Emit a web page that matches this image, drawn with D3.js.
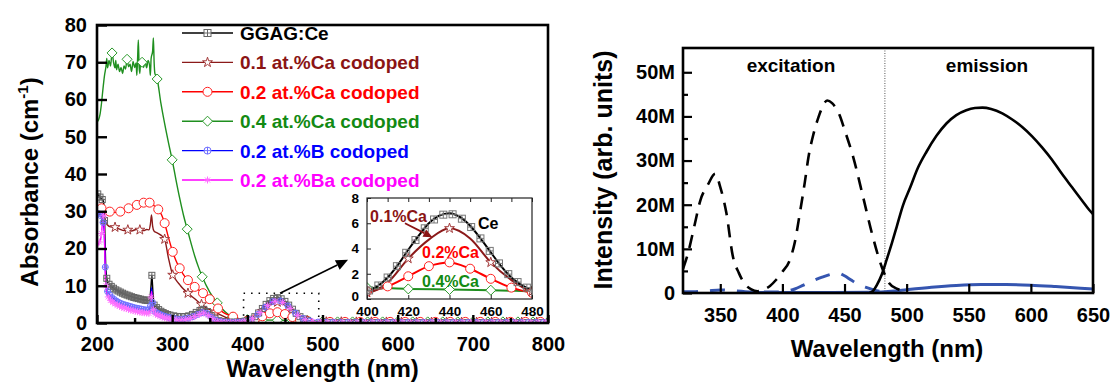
<!DOCTYPE html>
<html>
<head>
<meta charset="utf-8">
<script src="https://cdn.jsdelivr.net/npm/d3@7"></script>
<style>
  body { margin: 0; background: #fff; }
  svg { display: block; font-family: "Liberation Sans", Arial, sans-serif; }
</style>
</head>
<body>
<svg id="chart" width="1112" height="383"></svg>
<script>
// ================= Absorption spectra (left panel) =================
const ggagWl  = [200,202,204,206,208,209.5,210.5,211.5,213,215,218,221,224,228,232,236,240,244,248,252,256,260,264,268,270,271.5,273,274.5,276,278,282,286,290,295,300,305,310,315,320,325,330,335,340,343,346,350,355,360,370,380,390,400,405,410,415,420,425,430,435,440,445,450,455,460,465,470,475,480,490,500,520,540,560,580,600,620,640,660,680,700,720,740,760,780,800];
const ggagAbs = [35,34.3,33.8,33.3,33,31,24,16,12,10.6,10,9.5,9,8.6,8.2,7.8,7.5,7.2,6.9,6.7,6.5,6.3,6.1,6.0,6.2,9,12.8,8,4.8,4.3,3.6,3.0,2.6,2.2,2.0,1.8,1.7,1.7,1.8,2.1,2.6,3.2,3.6,3.7,3.3,2.4,1.4,0.7,0.3,0.2,0.3,0.6,1.0,1.7,2.7,3.9,5.0,6.0,6.6,6.8,6.5,5.8,4.8,3.7,2.6,1.7,1.1,0.7,0.35,0.2,0.15,0.15,0.12,0.12,0.1,0.1,0.1,0.1,0.1,0.1,0.1,0.1,0.1,0.1,0.1];

const ca01Wl  = [200,203,206,209,211,214,218,224,230,236,241,246,252,257,262,266,269,271,272.5,274,276,280,285,290,295,300.7,305,310,315,321,330,339,348,357,365,375,385,400,410,420,430,440,450,460,470,480,490,500,520,540,560,580,600,620,640,660,680,700,720,740,760,780,800];
const ca01Abs = [30,29.5,28.5,29.8,27.5,26.3,25.8,25.7,25.2,24.8,25,24.7,25.1,25,24.8,25.1,25,26.5,29,26,24.6,24.2,23.6,22.5,17.5,12.9,11.6,10.3,9.1,8,6.5,5,3.8,3,2.1,1.2,0.7,0.5,1.3,3.2,4.7,5.6,4.8,2.9,1.5,0.6,0.4,0.3,0.3,0.25,0.25,0.25,0.2,0.2,0.2,0.2,0.2,0.2,0.2,0.2,0.2,0.2,0.2];

const ca02Wl  = [200,203,206,210,217,224,231,236,242,248,253,258,262,266,270,273,276,281.5,286,290,295,300.7,305,310,315,321,330,341,350,355,361,370,381,390,400,410,420,430,440,450,460,470,480,490,500,520,540,560,580,600,620,640,660,680,700,720,740,760,780,800];
const ca02Abs = [28,30.5,30.8,30.2,29.9,29.7,29.9,30.3,30.8,31.3,31.7,32.1,32.3,32.4,32.3,32,31.5,30.5,29,26.8,23,19.1,16.8,14.7,13,11.5,9.7,8,6.4,5.2,3.9,2.6,1.7,1.1,0.6,1.0,1.8,2.6,2.9,2.4,1.6,0.9,0.5,0.35,0.3,0.3,0.3,0.3,0.3,0.3,0.3,0.3,0.3,0.3,0.3,0.3,0.3,0.3,0.3,0.3];

const ca04Wl  = [200,202,204,206,208,210,212,213,214,216,218,220,222,224,225,226,228,230,232,234,236,238,240,242,244,246,248,250,252,253,254,255,256,257,258,260,262,264,266,268,270,271,272,274,275,276,277,278,280,285,290,295,300,305,310,315,320,325,330,335,340,350,360,370,380,390,400,420,440,460,480,500,520,540,560,580,600,620,640,660,680,700,720,740,760,780,800];
const ca04Abs = [54,54.5,56,59,63,66.5,69,71,68.5,70.5,69,72.5,70,68.5,70.5,68,69.5,67.5,68.6,67,69,68.2,70.8,68.8,69.5,67.5,70.2,68.6,69.8,66.5,71,76,69,67,70.5,70,68.6,70.2,68.5,70.5,69,66.5,71,73,76.5,70,67,66.5,65.5,59,53.5,48.5,43.8,38.5,33.5,29,25.2,21.5,18,15,12.4,8.3,5.4,3.1,1.6,0.7,0.9,0.8,0.75,0.7,0.6,0.4,0.3,0.3,0.3,0.3,0.3,0.3,0.3,0.3,0.3,0.3,0.3,0.3,0.3,0.3,0.3];

const bWl  = [200,203,206,208,209.5,211,212.5,214,217,220,225,230,235,240,245,250,255,260,265,269,271,272.5,274,276,280,285,290,295,300,305,310,315,320,325,330,335,340,343,346,350,355,360,370,380,390,400,410,420,430,440,450,460,470,480,490,500,520,540,560,580,600,620,640,660,680,700,720,740,760,780,800];
const bAbs = [29,29.5,28.5,27,25,15,10,8.5,7.5,6.8,6,5.4,5,4.7,4.4,4.1,3.9,3.7,3.5,3.4,4.5,9.5,5.5,3.2,2.7,2.2,1.8,1.5,1.3,1.1,1.0,1.1,1.2,1.5,1.9,2.4,2.8,2.9,2.6,1.9,1.1,0.5,0.2,0.1,0.2,0.5,1.5,3.5,5.4,6.3,5.4,3.4,1.6,0.7,0.3,0.2,0.15,0.15,0.15,0.15,0.15,0.15,0.15,0.15,0.15,0.15,0.15,0.15,0.15,0.15,0.15];

const baWl  = [200,202,204,206,207.5,208.5,209.5,210.5,211.5,213,216,220,225,230,235,240,245,250,255,260,265,269,271,272.5,274,276,280,285,290,295,300,305,310,315,320,325,330,335,340,343,346,350,355,360,370,380,390,400,410,420,430,440,450,460,470,480,490,500,520,540,560,580,600,620,640,660,680,700,720,740,760,780,800];
const baAbs = [20,21.5,22,24,28,30.5,27,18,11,8,6.5,5.7,5,4.5,4.1,3.8,3.5,3.2,3.0,2.8,2.7,2.6,3.8,8.5,4.5,2.6,2.2,1.8,1.4,1.2,1.0,0.9,0.8,0.9,1.0,1.3,1.7,2.2,2.6,2.7,2.4,1.7,1.0,0.4,0.15,0.1,0.2,0.5,1.4,3.4,5.2,6.1,5.3,3.3,1.5,0.6,0.3,0.2,0.15,0.15,0.15,0.15,0.15,0.15,0.15,0.15,0.15,0.15,0.15,0.15,0.15,0.15,0.15];

const absSeriesNames = ["GGAG:Ce","0.1 at.%Ca codoped","0.2 at.%Ca codoped","0.4 at.%Ca codoped","0.2 at.%B codoped","0.2 at.%Ba codoped"];
const absXTicks = [200,300,400,500,600,700,800];
const absYTicks = [0,10,20,30,40,50,60,70,80];
const insetXTicks = [400,420,440,460,480];
const insetYTicks = [0,2,4,6,8];
const insetLabels = ["0.1%Ca","Ce","0.2%Ca","0.4%Ca"];

// ================= PL spectra (right panel) =================
const exWl  = [320,324,329,334,340,346,350,355,360,365,370,375,380,385,390,395,400,406,410,414,418,421,425,429,432,436,440,446,450,457,465,472,480,486,492,496,500];
const exInt = [5.5,9,15,21,24.5,27,24,18,8.5,4.5,2,0.8,0.4,0.8,1.6,3,4.8,7.5,11.5,18,25,30.8,36,39.8,42,43.6,43,40.3,37,30.8,21.7,13.6,5.9,2.2,1.0,0.6,0.4];
const emWl  = [470,473,476,480,484,488,492,497,503,509,516,524,532,540,548,555,561,568,577,585,593,601,609,617,625,633,641,647,650];
const emInt = [0,0.5,1.8,4.2,7.6,11.2,15,19.8,24,28.3,32,35.6,38.4,40.3,41.4,41.9,42,41.7,40.7,39.3,37.6,35.5,33,30.2,27,24,21,18.8,17.9];
const exBWl  = [320,330,340,350,360,370,380,390,400,410,417,425,432,440,445,450,455,460,468,475,480,490];
const exBInt = [0.3,0.3,0.5,0.7,0.5,0.3,0.2,0.2,0.3,0.9,1.8,2.8,3.6,4.3,4.5,3.9,3.0,2.1,1.2,0.6,0.3,0.1];
const emBWl  = [368,400,440,470,480,490,500,520,540,560,580,600,620,640,650];
const emBInt = [0.1,0.1,0.1,0.15,0.25,0.45,0.75,1.3,1.7,1.9,1.9,1.75,1.45,1.1,0.9];
const plXTicks = [350,400,450,500,550,600,650];
const plYTicks = [0,10,20,30,40,50];
const plRegionNames = ["excitation","emission"];

// ---------------------------------------------------------------
const svg = d3.select("#chart");

function valueAt(wl, vals, x) {
  const i = d3.bisectLeft(wl, x);
  if (i <= 0) return vals[0];
  if (i >= wl.length) return vals[vals.length - 1];
  const t = (x - wl[i - 1]) / (wl[i] - wl[i - 1]);
  return vals[i - 1] + t * (vals[i] - vals[i - 1]);
}

function drawMarker(g, type, x, y, color, r, fill) {
  const s = g.append("g").attr("transform", `translate(${x},${y})`)
    .attr("stroke", color).attr("stroke-width", 1).attr("fill", fill || "none");
  if (type === "sqplus") {
    s.append("rect").attr("x", -r).attr("y", -r).attr("width", 2 * r).attr("height", 2 * r);
    s.append("path").attr("d", `M${-r},0H${r}M0,${-r}V${r}`);
  } else if (type === "star") {
    s.append("path").attr("d", d3.symbol(d3.symbolStar, r * r * 1.5)());
  } else if (type === "circle") {
    s.append("circle").attr("r", r);
  } else if (type === "diamond") {
    s.append("path").attr("d", `M0,${-r}L${r},0L0,${r}L${-r},0Z`);
  } else if (type === "circplus") {
    s.append("circle").attr("r", r);
    s.append("path").attr("d", `M${-r},0H${r}M0,${-r}V${r}`);
  } else if (type === "asterisk") {
    const d = r * 0.72;
    s.append("path").attr("d", `M${-r},0H${r}M0,${-r}V${r}M${-d},${-d}L${d},${d}M${-d},${d}L${d},${-d}`);
  }
}

// ---------------- left panel ----------------
const L = { x0: 97, x1: 548, y0: 25, y1: 323 };
const xL = d3.scaleLinear().domain([200, 800]).range([L.x0, L.x1]);
const yL = d3.scaleLinear().domain([0, 80]).range([L.y1, L.y0]);

const absSeries = [
  { name: absSeriesNames[0], wl: ggagWl, v: ggagAbs, color: "#000000", text: "#000000", mark: "sqplus", mc: "#666666", mr: 3, mfill: "none",
    marks: d3.range(201, 300, 3).concat(d3.range(302, 400, 5), d3.range(400, 481, 5), d3.range(500, 801, 10)) },
  { name: absSeriesNames[1], wl: ca01Wl, v: ca01Abs, color: "#8b1a1a", text: "#8b1414", mark: "star", mc: "#a33a3a", mr: 4.5, mfill: "#fff",
    marks: [224, 241, 257, 290, 300.7, 321, 339, 357, 380, 400, 420, 440, 460, 480, 505, 525, 545, 565, 585, 605, 625, 645, 665, 685, 705, 725, 745, 765, 785] },
  { name: absSeriesNames[2], wl: ca02Wl, v: ca02Abs, color: "#ff0000", text: "#ff0000", mark: "circle", mc: "#ff2020", mr: 4.5, mfill: "#fff",
    marks: [206, 217, 231, 242, 253, 262, 270, 281.5, 290, 300.7, 310, 321, 330, 341, 350, 361, 381, 400, 410, 420, 430, 440, 450, 460, 470, 480, 510, 530, 550, 570, 590, 610, 630, 650, 670, 690, 710, 730, 750, 770, 790] },
  { name: absSeriesNames[3], wl: ca04Wl, v: ca04Abs, color: "#1f8f1f", text: "#138a13", mark: "diamond", mc: "#2a9a2a", mr: 5, mfill: "#fff",
    marks: d3.range(220, 801, 20) },
  { name: absSeriesNames[4], wl: bWl, v: bAbs, color: "#0000ff", text: "#0000ff", mark: "circplus", mc: "#7070ff", mr: 3, mfill: "none",
    marks: d3.range(202, 300, 3).concat(d3.range(304, 400, 6), d3.range(404, 801, 10)) },
  { name: absSeriesNames[5], wl: baWl, v: baAbs, color: "#ff00ff", text: "#ff00ff", mark: "asterisk", mc: "#ff70ff", mr: 3.5, mfill: "none",
    marks: d3.range(203, 300, 3).concat(d3.range(306, 400, 6), d3.range(407, 801, 10)) }
];

svg.append("defs").append("clipPath").attr("id", "clipL")
  .append("rect").attr("x", L.x0).attr("y", L.y0).attr("width", L.x1 - L.x0).attr("height", L.y1 - L.y0);

const plotL = svg.append("g").attr("clip-path", "url(#clipL)");
const lineL = (s) => d3.line().x((d, i) => xL(s.wl[i])).y((d) => yL(d)).curve(d3.curveMonotoneX)(s.v);

// draw order: green, dark red, red, black, blue, magenta
const drawOrder = [3, 1, 2, 0, 4, 5];
drawOrder.forEach((k) => {
  const s = absSeries[k];
  plotL.append("path").attr("d", lineL(s)).attr("fill", "none").attr("stroke", s.color).attr("stroke-width", 1.4);
});
drawOrder.forEach((k) => {
  const s = absSeries[k];
  const g = plotL.append("g");
  s.marks.forEach((m) => drawMarker(g, s.mark, xL(m), yL(valueAt(s.wl, s.v, m)), s.mc, s.mr, s.mfill));
});

// dotted box around the Ce 4f-5d band and arrow to the inset
const boxWl = [395, 495], boxAbs = [0, 8];
plotL.append("rect")
  .attr("x", xL(boxWl[0])).attr("y", yL(boxAbs[1]))
  .attr("width", xL(boxWl[1]) - xL(boxWl[0])).attr("height", yL(boxAbs[0]) - yL(boxAbs[1]))
  .attr("fill", "none").attr("stroke", "#000").attr("stroke-width", 1.6).attr("stroke-dasharray", "1.5,6");

function arrow(g, x1, y1, x2, y2, color, w, head) {
  const a = Math.atan2(y2 - y1, x2 - x1);
  const bx = x2 - head * Math.cos(a), by = y2 - head * Math.sin(a);
  g.append("line").attr("x1", x1).attr("y1", y1).attr("x2", bx).attr("y2", by)
    .attr("stroke", color).attr("stroke-width", w);
  const hw = head * 0.45;
  g.append("path")
    .attr("d", `M${x2},${y2}L${bx - hw * Math.sin(a)},${by + hw * Math.cos(a)}L${bx + hw * Math.sin(a)},${by - hw * Math.cos(a)}Z`)
    .attr("fill", color);
}
const zoomArrow = { from: [443.5, 8.0], to: [534, 17] };
arrow(svg, xL(zoomArrow.from[0]), yL(zoomArrow.from[1]), xL(zoomArrow.to[0]), yL(zoomArrow.to[1]), "#000", 1.6, 12);

// ---------- inset (400-480 nm) ----------
const I = { x0: 367, x1: 532, y0: 198, y1: 299 };
const xI = d3.scaleLinear().domain([400, 480]).range([I.x0, I.x1]);
const yI = d3.scaleLinear().domain([0, 8]).range([I.y1, I.y0]);
svg.append("rect").attr("x", I.x0).attr("y", I.y0).attr("width", I.x1 - I.x0).attr("height", I.y1 - I.y0)
  .attr("fill", "#fff");
svg.select("defs").append("clipPath").attr("id", "clipI")
  .append("rect").attr("x", I.x0).attr("y", I.y0).attr("width", I.x1 - I.x0).attr("height", I.y1 - I.y0);
const plotI = svg.append("g").attr("clip-path", "url(#clipI)");
const insetSeries = [
  { s: absSeries[3], marks: [400, 420, 440, 460, 480] },
  { s: absSeries[2], marks: [400, 410, 420, 430, 440, 450, 460, 470, 480] },
  { s: absSeries[1], marks: [400, 420, 440, 460, 480] },
  { s: absSeries[0], marks: d3.range(401, 481, 4.5) }
];
const lineI = (s) => d3.line().x((d, i) => xI(s.wl[i])).y((d) => yI(d)).curve(d3.curveMonotoneX)(s.v);
insetSeries.forEach(({ s }) => {
  plotI.append("path").attr("d", lineI(s)).attr("fill", "none").attr("stroke", s.color).attr("stroke-width", 2);
});
insetSeries.forEach(({ s, marks }) => {
  const g = plotI.append("g");
  const mc = s.mark === "sqplus" ? "#777" : s.mc;
  marks.forEach((m) => drawMarker(g, s.mark, xI(m), yI(valueAt(s.wl, s.v, m)), mc, s.mark === "sqplus" ? 3.5 : s.mr, s.mfill === "none" ? "none" : "#fff"));
});
// inset frame and ticks
svg.append("rect").attr("x", I.x0).attr("y", I.y0).attr("width", I.x1 - I.x0).attr("height", I.y1 - I.y0)
  .attr("fill", "none").attr("stroke", "#222").attr("stroke-width", 1.2);
const insetTop = svg.append("g").attr("transform", `translate(0,${I.y0})`)
  .call(d3.axisBottom(xI).tickValues(d3.range(400, 481, 10)).tickSize(4).tickFormat(""));
insetTop.select(".domain").remove();
const insetX = svg.append("g").attr("transform", `translate(0,${I.y1})`)
  .call(d3.axisBottom(xI).tickValues(insetXTicks).tickSizeInner(-4).tickSizeOuter(0).tickPadding(7));
insetX.select(".domain").remove();
const insetY = svg.append("g").attr("transform", `translate(${I.x0},0)`)
  .call(d3.axisLeft(yI).tickValues(insetYTicks).tickSizeInner(-4).tickSizeOuter(0).tickPadding(8));
insetY.select(".domain").remove();
[insetX, insetY].forEach((g) => g.selectAll("text").attr("font-size", 13.5).attr("font-weight", "bold")
  .attr("font-family", "'Liberation Sans', Arial, sans-serif").attr("fill", "#000"));
insetY.selectAll("text").attr("dy", (d) => (d === 0 ? "0.1em" : "0.32em"));
[insetX, insetY, insetTop].forEach((g) => g.selectAll("line").attr("stroke", "#222"));

// inset annotations
const insetText = [
  { t: insetLabels[0], wl: 401.5, a: 6.1, c: "#8b1414" },
  { t: insetLabels[1], wl: 453.8, a: 5.55, c: "#000" },
  { t: insetLabels[2], wl: 426.7, a: 3.25, c: "#ff0000" },
  { t: insetLabels[3], wl: 426.7, a: 0.95, c: "#138a13" }
];
insetText.forEach((d) => svg.append("text").attr("x", xI(d.wl)).attr("y", yI(d.a)).text(d.t)
  .attr("font-size", 16).attr("font-weight", "bold").attr("fill", d.c));
const insetArrow = { from: [418.4, 6.0], to: [431.7, 4.9] };
arrow(svg, xI(insetArrow.from[0]), yI(insetArrow.from[1]), xI(insetArrow.to[0]), yI(insetArrow.to[1]), "#8b1414", 1.8, 9);

// ---------- legend ----------
const leg = svg.append("g");
absSeries.forEach((s, i) => {
  const cy = 33 + i * 29.4;
  leg.append("line").attr("x1", 182).attr("x2", 233).attr("y1", cy).attr("y2", cy)
    .attr("stroke", s.color).attr("stroke-width", 1.4);
  drawMarker(leg, s.mark, 207.5, cy, s.mc, s.mark === "sqplus" || s.mark === "circplus" ? 3.5 : s.mr, "#fff");
  leg.append("text").attr("x", 240).attr("y", cy + 7).text(s.name)
    .attr("font-size", 19).attr("font-weight", "bold").attr("fill", s.text);
});

// ---------- left frame and axes ----------
svg.append("rect").attr("x", L.x0).attr("y", L.y0).attr("width", L.x1 - L.x0).attr("height", L.y1 - L.y0)
  .attr("fill", "none").attr("stroke", "#000").attr("stroke-width", 2.6);
const axXL = svg.append("g").attr("transform", `translate(0,${L.y1})`)
  .call(d3.axisBottom(xL).tickValues(absXTicks).tickSizeInner(-8).tickSizeOuter(0).tickPadding(14));
svg.append("g").attr("transform", `translate(0,${L.y1})`)
  .call(d3.axisBottom(xL).tickValues(d3.range(250, 800, 100)).tickSizeInner(-5).tickSizeOuter(0).tickFormat(""))
  .call((g) => g.select(".domain").remove()).selectAll("line").attr("stroke-width", 2.4);
const axYL = svg.append("g").attr("transform", `translate(${L.x0},0)`)
  .call(d3.axisLeft(yL).tickValues(absYTicks).tickSizeInner(-10).tickSizeOuter(0).tickPadding(10));
[axXL, axYL].forEach((g) => {
  g.select(".domain").remove();
  g.selectAll("line").attr("stroke-width", 2.4);
  g.selectAll("text").attr("font-size", 20).attr("font-weight", "bold")
    .attr("font-family", "'Liberation Sans', Arial, sans-serif").attr("fill", "#000");
});
svg.append("text").attr("x", (L.x0 + L.x1) / 2).attr("y", 377).attr("text-anchor", "middle")
  .attr("font-size", 24).attr("font-weight", "bold").text("Wavelength (nm)");
const yTitleL = svg.append("text").attr("transform", "translate(38,182) rotate(-90)").attr("text-anchor", "middle")
  .attr("font-size", 24).attr("font-weight", "bold");
yTitleL.append("tspan").text("Absorbance (cm");
yTitleL.append("tspan").text("-1").attr("font-size", 15).attr("dy", -10);
yTitleL.append("tspan").text(")").attr("dy", 10);

// ================= right panel =================
const R = { x0: 683, x1: 1093, y0: 48, y1: 293 };
const xR = d3.scaleLinear().domain([320, 650]).range([R.x0, R.x1]);
const yR = d3.scaleLinear().domain([0, 55.5]).range([R.y1, R.y0]);
svg.select("defs").append("clipPath").attr("id", "clipR")
  .append("rect").attr("x", R.x0).attr("y", R.y0).attr("width", R.x1 - R.x0).attr("height", R.y1 - R.y0);
const plotR = svg.append("g").attr("clip-path", "url(#clipR)");
const lineR = (wl, v) => d3.line().x((d, i) => xR(wl[i])).y((d) => yR(d)).curve(d3.curveMonotoneX)(v);

// boundary between excitation and emission windows
const splitWl = 482.5;
plotR.append("line").attr("x1", xR(splitWl)).attr("x2", xR(splitWl)).attr("y1", R.y0).attr("y2", R.y1)
  .attr("stroke", "#555").attr("stroke-width", 1).attr("stroke-dasharray", "1,1.5");

plotR.append("path").attr("d", lineR(emBWl, emBInt)).attr("fill", "none").attr("stroke", "#3555b0").attr("stroke-width", 3);
plotR.append("path").attr("d", lineR(exBWl, exBInt)).attr("fill", "none").attr("stroke", "#3555b0").attr("stroke-width", 3)
  .attr("stroke-dasharray", "15,12");
plotR.append("path").attr("d", lineR(exWl, exInt)).attr("fill", "none").attr("stroke", "#000").attr("stroke-width", 2.6)
  .attr("stroke-dasharray", "13,9");
plotR.append("path").attr("d", lineR(emWl, emInt)).attr("fill", "none").attr("stroke", "#000").attr("stroke-width", 2.6);

svg.append("text").attr("x", 791).attr("y", 72).attr("text-anchor", "middle").attr("font-size", 19).attr("font-weight", "bold").text(plRegionNames[0]);
svg.append("text").attr("x", 987).attr("y", 72).attr("text-anchor", "middle").attr("font-size", 19).attr("font-weight", "bold").text(plRegionNames[1]);

svg.append("rect").attr("x", R.x0).attr("y", R.y0).attr("width", R.x1 - R.x0).attr("height", R.y1 - R.y0)
  .attr("fill", "none").attr("stroke", "#000").attr("stroke-width", 2.6);
const axXR = svg.append("g").attr("transform", `translate(0,${R.y1})`)
  .call(d3.axisBottom(xR).tickValues(plXTicks).tickSizeInner(-9).tickSizeOuter(0).tickPadding(15));
const axYR = svg.append("g").attr("transform", `translate(${R.x0},0)`)
  .call(d3.axisLeft(yR).tickValues(plYTicks).tickSizeInner(-9).tickSizeOuter(0).tickPadding(8)
    .tickFormat((d) => (d === 0 ? "0" : d + "M")));
svg.append("g").attr("transform", `translate(${R.x0},0)`)
  .call(d3.axisLeft(yR).tickValues(d3.range(5, 55, 10)).tickSizeInner(-5).tickSizeOuter(0).tickFormat(""))
  .call((g) => g.select(".domain").remove()).selectAll("line").attr("stroke-width", 2.2);
[axXR, axYR].forEach((g) => {
  g.select(".domain").remove();
  g.selectAll("line").attr("stroke-width", 2.2);
  g.selectAll("text").attr("font-size", 20).attr("font-weight", "bold")
    .attr("font-family", "'Liberation Sans', Arial, sans-serif").attr("fill", "#000");
});
svg.append("text").attr("x", 887).attr("y", 357).attr("text-anchor", "middle")
  .attr("font-size", 24).attr("font-weight", "bold").text("Wavelength (nm)");
svg.append("text").attr("transform", "translate(612,170) rotate(-90)").attr("text-anchor", "middle")
  .attr("font-size", 25).attr("font-weight", "bold").text("Intensity (arb. units)");
</script>
</body>
</html>
